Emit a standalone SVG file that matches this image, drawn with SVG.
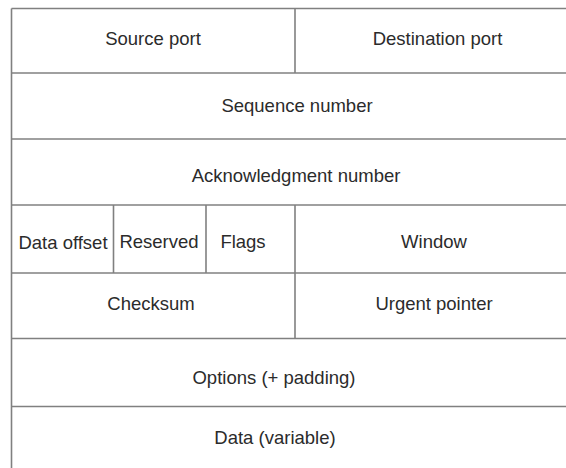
<svg xmlns="http://www.w3.org/2000/svg" width="566" height="468" viewBox="0 0 566 468">
  <style>
    .grid line { stroke: #808080; stroke-width: 1.6; }
    .lbl { font-family: "Liberation Sans", Arial, sans-serif; font-size: 18.5px; fill: #2b2b2b; text-anchor: middle; }
  </style>
  <rect width="566" height="468" fill="#ffffff"/>

  <!-- table rules -->
  <g id="grid" class="grid">
    <line x1="11.5" y1="8.5" x2="566" y2="8.5"/>
    <line x1="11.5" y1="73" x2="566" y2="73"/>
    <line x1="11.5" y1="139" x2="566" y2="139"/>
    <line x1="11.5" y1="205" x2="566" y2="205"/>
    <line x1="11.5" y1="273" x2="566" y2="273"/>
    <line x1="11.5" y1="338.5" x2="566" y2="338.5"/>
    <line x1="11.5" y1="406.5" x2="566" y2="406.5"/>
    <line x1="11.5" y1="8.5" x2="11.5" y2="468"/>
    <line x1="295" y1="8.5" x2="295" y2="73"/>
    <line x1="113.5" y1="205" x2="113.5" y2="273"/>
    <line x1="206" y1="205" x2="206" y2="273"/>
    <line x1="295" y1="205" x2="295" y2="338.5"/>
  </g>

  <!-- header fields -->
  <g id="source-port"><text class="lbl" x="153" y="45">Source port</text></g>
  <g id="destination-port"><text class="lbl" x="437.5" y="45">Destination port</text></g>
  <g id="sequence-number"><text class="lbl" x="297" y="112">Sequence number</text></g>
  <g id="ack-number"><text class="lbl" x="296" y="181.5">Acknowledgment number</text></g>
  <g id="data-offset"><text class="lbl" x="63" y="249">Data offset</text></g>
  <g id="reserved"><text class="lbl" x="159" y="248">Reserved</text></g>
  <g id="flags"><text class="lbl" x="243" y="248">Flags</text></g>
  <g id="window"><text class="lbl" x="434" y="248">Window</text></g>
  <g id="checksum"><text class="lbl" x="151" y="310">Checksum</text></g>
  <g id="urgent-pointer"><text class="lbl" x="434" y="310">Urgent pointer</text></g>
  <g id="options"><text class="lbl" x="274" y="384">Options (+ padding)</text></g>
  <g id="data"><text class="lbl" x="275" y="444">Data (variable)</text></g>
</svg>
